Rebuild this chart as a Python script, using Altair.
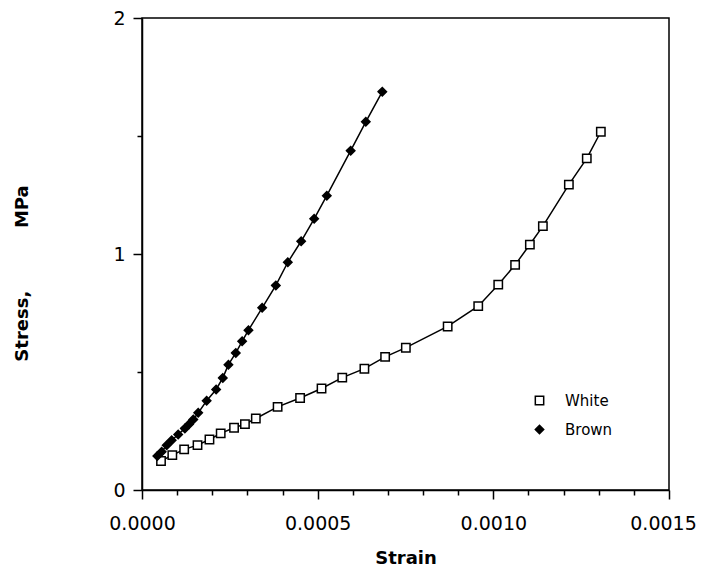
import altair as alt
import pandas as pd

# ---- data ----
series_names = ["White", "Brown"]

white_strain = [0.0000541, 0.0000863, 0.000120, 0.000158, 0.000192, 0.000224, 0.000262,
                0.000293, 0.000324, 0.000386, 0.000450, 0.000511, 0.000570, 0.000633,
                0.000692, 0.000751, 0.000870, 0.000957, 0.001014, 0.001062, 0.001104,
                0.001141, 0.001215, 0.001266, 0.001306]
white_stress = [0.123, 0.148, 0.172, 0.190, 0.214, 0.240, 0.264,
                0.279, 0.303, 0.352, 0.390, 0.430, 0.476, 0.514,
                0.564, 0.603, 0.693, 0.779, 0.870, 0.954, 1.040,
                1.118, 1.294, 1.405, 1.518]

brown_strain = [0.0000436, 0.0000560, 0.0000703, 0.0000845, 0.000103, 0.000122, 0.000134,
                0.000146, 0.000160, 0.000184, 0.000211, 0.000230, 0.000246, 0.000267,
                0.000285, 0.000303, 0.000342, 0.000381, 0.000415, 0.000453, 0.000490,
                0.000526, 0.000594, 0.000637, 0.000684]
brown_stress = [0.144, 0.162, 0.190, 0.211, 0.235, 0.261, 0.279,
                0.299, 0.327, 0.378, 0.426, 0.475, 0.531, 0.581,
                0.630, 0.677, 0.772, 0.867, 0.965, 1.054, 1.149,
                1.247, 1.438, 1.560, 1.688]

x_major = [0.0, 0.0005, 0.0010, 0.0015]
x_minor = [0.0001, 0.0002, 0.0003, 0.0004, 0.0006, 0.0007, 0.0008, 0.0009,
           0.0011, 0.0012, 0.0013, 0.0014]
y_major = [0, 1, 2]
y_minor = [0.5, 1.5]

x_title = "Strain"
y_title = "Stress,\u00a0\u00a0\u00a0\u00a0\u00a0\u00a0\u00a0\u00a0\u00a0\u00a0MPa"

df = pd.concat([
    pd.DataFrame({"strain": white_strain, "stress": white_stress, "series": "White"}),
    pd.DataFrame({"strain": brown_strain, "stress": brown_stress, "series": "Brown"}),
], ignore_index=True)

x_scale = alt.Scale(domain=[0, 0.0015], nice=False, zero=False)
y_scale = alt.Scale(domain=[0, 2], nice=False)

base = alt.Chart(df)

lines = base.mark_line(color="black", strokeWidth=1.5).encode(
    x=alt.X("strain:Q", scale=x_scale,
            axis=alt.Axis(values=x_minor, labels=False, domain=False, tickSize=5,
                          title=None, orient="bottom", grid=False)),
    y=alt.Y("stress:Q", scale=y_scale,
            axis=alt.Axis(values=y_minor, labels=False, domain=False, tickSize=5,
                          title=None, orient="left", grid=False)),
    detail="series:N",
)

leg = alt.Legend(title=None, orient="none", legendX=390, legendY=375,
                 labelFont="DejaVu Sans", labelFontSize=15, labelColor="black",
                 labelOffset=18, rowPadding=13, symbolStrokeWidth=1.5,
                 symbolStrokeColor="black", symbolSize=70)

last_label_offset = {"condition": {"test": "datum.value >= 0.00149", "value": -6}, "value": 0}

points = base.mark_point(filled=True, strokeWidth=1.5, opacity=1, size=70).encode(
    x=alt.X("strain:Q", scale=x_scale,
            axis=alt.Axis(values=x_major, format=".4f", tickSize=9, labelPadding=15,
                          labelFlush=False, labelOffset=last_label_offset,
                          title=x_title, titleX=263.5, titleY=73, titleAlign="center",
                          titleBaseline="alphabetic", orient="bottom", grid=False)),
    y=alt.Y("stress:Q", scale=y_scale,
            axis=alt.Axis(values=y_major, format=".0f", tickSize=9, labelPadding=8,
                          labelFlush=False,
                          title=y_title, titleX=-115, titleY=255, titleAngle=270,
                          titleAlign="center", titleBaseline="alphabetic",
                          orient="left", grid=False)),
    shape=alt.Shape("series:N", scale=alt.Scale(domain=series_names, range=["square", "diamond"]), legend=leg),
    fill=alt.Fill("series:N", scale=alt.Scale(domain=series_names, range=["white", "black"]), legend=leg),
    stroke=alt.Stroke("series:N", scale=alt.Scale(domain=series_names, range=["black", "black"]), legend=leg),
)

chart = alt.layer(lines, points).resolve_axis(
    x="independent", y="independent"
).properties(
    width=527, height=472,
    autosize=alt.AutoSizeParams(type="none"),
    padding={"left": 134, "top": 10, "right": 28, "bottom": 80},
).configure_view(
    stroke="black", strokeWidth=1.5
).configure_axis(
    labelFont="DejaVu Sans", labelFontSize=19, labelColor="black",
    tickColor="black", tickWidth=1.5, domainColor="black", domainWidth=1.5,
    titleFont="DejaVu Sans", titleFontSize=18, titleFontWeight="bold", titleColor="black",
)

chart.save("out.html", embed_options={"renderer": "svg", "actions": False})
